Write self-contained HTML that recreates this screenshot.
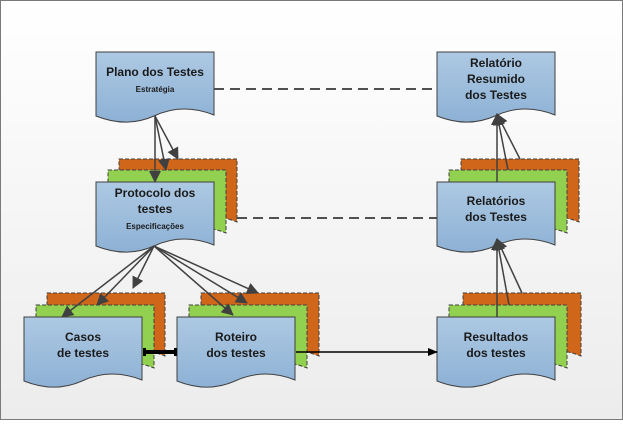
<!DOCTYPE html>
<html><head><meta charset="utf-8"><style>
html,body{margin:0;padding:0;}
body{width:623px;height:420px;overflow:hidden;font-family:"Liberation Sans",sans-serif;}
</style></head><body>
<svg width="623" height="420" viewBox="0 0 623 420" xmlns="http://www.w3.org/2000/svg" font-family="Liberation Sans, sans-serif">
<defs>
<linearGradient id="bg" x1="0" y1="0" x2="0" y2="1"><stop offset="0" stop-color="#ffffff"/><stop offset="1" stop-color="#ececec"/></linearGradient>
<linearGradient id="bl" x1="0" y1="0" x2="0" y2="1"><stop offset="0" stop-color="#adc9e3"/><stop offset="1" stop-color="#8db1d5"/></linearGradient>
<path id="doc" d="M0,0 H118 V63 C95,54 75,56 58,64 C40,72 20,72 0,64 Z"/>
<marker id="ar" markerWidth="12" markerHeight="12" refX="11" refY="6" orient="auto" markerUnits="userSpaceOnUse"><path d="M0,0 L12,6 L0,12 Z" fill="#404040"/></marker>
<marker id="ak" markerWidth="10" markerHeight="10" refX="9" refY="5" orient="auto" markerUnits="userSpaceOnUse"><path d="M0,1 L10,5 L0,9 Z" fill="#000"/></marker>
</defs>
<rect x="0.5" y="0.5" width="622" height="419" fill="url(#bg)" stroke="#7a7a7a"/>

<g stroke="#404040" stroke-width="1" stroke-dasharray="4,2">
<use href="#doc" x="119" y="159" fill="#d0661a"/><use href="#doc" x="108" y="170" fill="#92d050"/>
<use href="#doc" x="47" y="293" fill="#d0661a"/><use href="#doc" x="36" y="305" fill="#92d050"/>
<use href="#doc" x="201" y="293" fill="#d0661a"/><use href="#doc" x="189" y="305" fill="#92d050"/>
<use href="#doc" x="461" y="159" fill="#d0661a"/><use href="#doc" x="449" y="170" fill="#92d050"/>
<use href="#doc" x="463" y="293" fill="#d0661a"/><use href="#doc" x="449" y="305" fill="#92d050"/>
</g>
<g stroke="#404040" stroke-width="1" fill="url(#bl)">
<use href="#doc" x="96" y="52"/>
<use href="#doc" x="437" y="52"/>
<use href="#doc" x="96" y="182"/>
<use href="#doc" x="437" y="182"/>
<use href="#doc" x="24" y="317"/>
<use href="#doc" x="177" y="317"/>
<use href="#doc" x="437" y="317"/>
</g>

<g stroke="#505050" stroke-width="2" stroke-dasharray="10,6" fill="none">
<line x1="214" y1="89" x2="437" y2="89"/>
<line x1="237" y1="218" x2="437" y2="218"/>
</g>

<g stroke="#404040" stroke-width="1.5" fill="none" marker-end="url(#ar)">
<line x1="155" y1="116" x2="155" y2="182"/>
<line x1="155" y1="116" x2="166" y2="170"/>
<line x1="155" y1="116" x2="178" y2="159"/>
<line x1="154" y1="246" x2="62" y2="317"/>
<line x1="154" y1="246" x2="97" y2="305"/>
<line x1="154" y1="246" x2="133" y2="288"/>
<line x1="154" y1="246" x2="233" y2="315"/>
<line x1="154" y1="246" x2="247" y2="303"/>
<line x1="154" y1="246" x2="258" y2="293"/>
<line x1="497" y1="317" x2="497" y2="239"/>
<line x1="509" y1="305" x2="497" y2="239"/>
<line x1="522" y1="293" x2="497" y2="239"/>
<line x1="497" y1="182" x2="497" y2="114"/>
<line x1="508" y1="170" x2="497" y2="114"/>
<line x1="520" y1="159" x2="497" y2="114"/>
</g>
<line x1="296" y1="352" x2="437" y2="352" stroke="#000" stroke-width="1.5" marker-end="url(#ak)"/>
<line x1="145" y1="352" x2="175" y2="352" stroke="#000" stroke-width="4"/>
<rect x="143" y="348" width="3" height="8" fill="#000"/><rect x="174" y="348" width="3" height="8" fill="#000"/>

<g fill="#1a1a1a" font-weight="bold" text-anchor="middle" font-size="12">
<text x="155" y="76">Plano dos Testes</text>
<text x="155" y="92" font-size="8">Estratégia</text>
<text x="155" y="197">Protocolo dos</text>
<text x="155" y="213">testes</text>
<text x="155" y="229" font-size="8">Especificações</text>
<text x="496" y="67">Relatório</text>
<text x="496" y="83">Resumido</text>
<text x="496" y="99">dos Testes</text>
<text x="496" y="205">Relatórios</text>
<text x="496" y="221">dos Testes</text>
<text x="83" y="341">Casos</text>
<text x="83" y="357">de testes</text>
<text x="236" y="341">Roteiro</text>
<text x="236" y="357">dos testes</text>
<text x="496" y="341">Resultados</text>
<text x="496" y="357">dos testes</text>
</g>
</svg>
</body></html>
